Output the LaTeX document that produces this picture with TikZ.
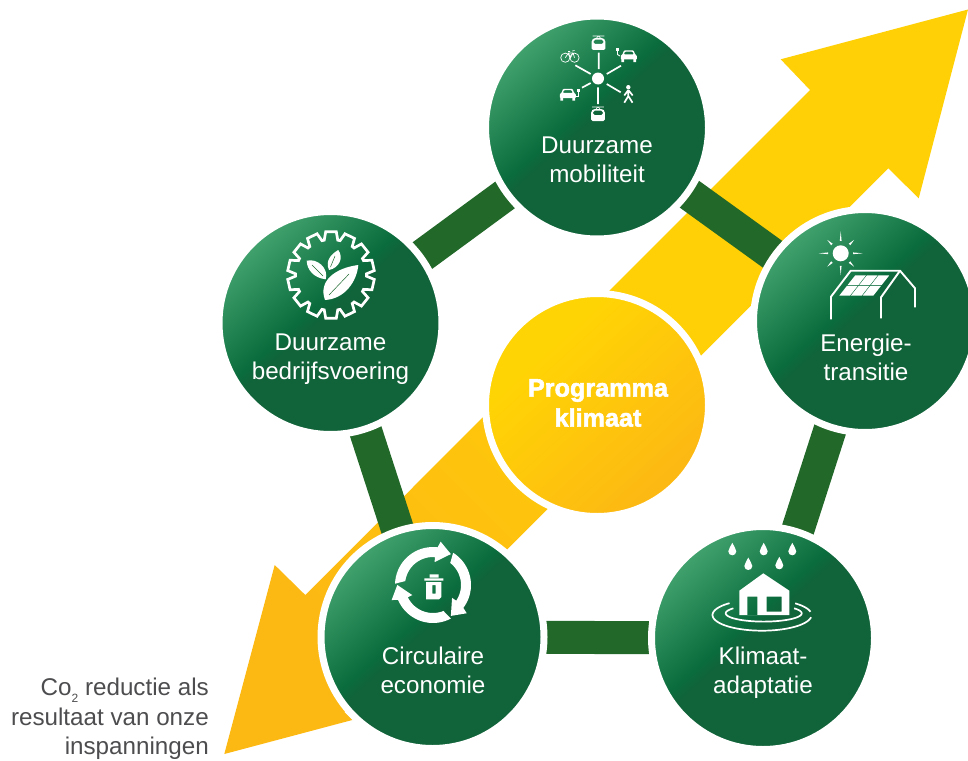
\documentclass[tikz,border=0pt]{standalone}
\usepackage{fontspec}
\setmainfont{Liberation Sans}
\newfontfamily\heavyfont[FakeBold=2.2]{Liberation Sans Bold}
\definecolor{gA}{HTML}{42A36F}
\definecolor{gB}{HTML}{0A6C3C}
\definecolor{gC}{HTML}{11633A}
\definecolor{barG}{HTML}{226828}
\definecolor{yA}{HTML}{FFD404}
\definecolor{yB}{HTML}{FDB913}
\definecolor{txtG}{HTML}{4D4D4F}
\pgfdeclarehorizontalshading{greenball}{100bp}{color(0bp)=(gA); color(25bp)=(gA); color(45bp)=(gB); color(48bp)=(gC); color(100bp)=(gC)}
\pgfdeclarehorizontalshading{yellowball}{100bp}{color(0bp)=(yA); color(33bp)=(yA); color(72bp)=(yB); color(100bp)=(yB)}
\pgfdeclarehorizontalshading{arrowshade}{100bp}{color(0bp)=(yB); color(26bp)=(yB); color(56bp)=(yA!85!yB); color(100bp)=(yA!85!yB)}
\pgfdeclarelayer{bg}
\pgfsetlayers{bg,main}
\tikzset{
  ball/.style={circle,draw=white,line width=7pt,minimum size=223pt,inner sep=0pt,outer sep=0pt,shading=greenball,shading angle=-48},
  sunball/.style={ball,shading=yellowball,shading angle=-48},
  lab/.style={text=white,align=center,font=\fontsize{24.2}{29.3}\selectfont,inner sep=0pt},
  bar/.style={draw=barG,line width=33pt},
}
\newcommand\caricon[2]{\begin{scope}[shift={(#1,#2)}]
  \fill[white,even odd rule,rounded corners=0.8pt] (-8,3.5) -- (-8,-0.5) -- (-6.3,-1.6) -- (-4.8,-5.6) -- (4.8,-5.6) -- (6.3,-1.6) -- (8,-0.5) -- (8,3.5) -- cycle
     (-3.9,-4.3) -- (3.9,-4.3) -- (5,-1.6) -- (-5,-1.6) -- cycle;
  \fill[white] (-7.4,3) rectangle (-4.6,6) (4.6,3) rectangle (7.4,6);
\end{scope}}
\newcommand\tramicon[2]{\begin{scope}[shift={(#1,#2)}]
  \fill[white,even odd rule,rounded corners=1.5pt] (-6.8,6) -- (-6.8,-4) -- (-4.5,-6) -- (4.5,-6) -- (6.8,-4) -- (6.8,6) -- cycle
     (-4.8,-4.3) -- (4.8,-4.3) -- (5,0) -- (-5,0) -- cycle;
  \draw[white,line width=0.6pt] (-5.8,-8) -- (5.8,-8) (0,-8) -- (-2,-6) (0,-8) -- (2,-6);
\end{scope}}
\newcommand\dropicon[2]{\fill[white,shift={(#1,#2)}] (0,-6.5) .. controls (1,-3) and (4,-1) .. (4,2) .. controls (4,7.3) and (-4,7.3) .. (-4,2) .. controls (-4,-1) and (-1,-3) .. cycle;}
\begin{document}
\begin{tikzpicture}[x=1pt,y=-1pt]
\useasboundingbox (0,0) rectangle (968,760);
\clip (0,0) rectangle (968,760);
% circles
\node[ball] (top) at (597,127.5) {};
\node[ball] (left) at (330.5,323) {};
\node[ball] (right) at (865,321) {};
\node[ball] (bl) at (432.5,637) {};
\node[ball] (br) at (763,638) {};
\node[sunball] (mid) at (597,405) {};
\begin{pgfonlayer}{bg}
  \shade[shading=arrowshade,shading angle=45]
    (968,9.5) -- (918.7,198.3) -- (888.3,168.3) -- (344.5,712) -- (352.3,720) -- (224.3,754)
    -- (274.7,565) -- (305.3,595) -- (810,90) -- (780.7,59.3) -- cycle;
  \draw[bar] (left.center) -- (top.center);
  \draw[bar] (top.center) -- (right.center);
  \draw[bar] (right.center) -- (br.center);
  \draw[bar] (br.center) -- (bl.center);
  \draw[bar] (bl.center) -- (left.center);
\end{pgfonlayer}
% labels
\node[lab] (ltop) at (597,160) {Duurzame\\mobiliteit};
\node[lab] (lleft) at (330.5,359) {Duurzame\\bedrijfsvoering};
\node[lab] (lright) at (866,357) {Energie-\\transitie};
\node[lab] (lbl) at (433,670.5) {Circulaire\\economie};
\node[lab] (lbr) at (763,672.5) {Klimaat-\\adaptatie};
\node[text=white,align=center,inner sep=0pt,font=\heavyfont\fontsize{25.2}{30}\selectfont] (lmid) at (598,403) {Programma\\klimaat};
\node[text=txtG,align=right,anchor=east,inner sep=0pt,font=\fontsize{24.2}{29.3}\selectfont] (note) at (209,719)
  {Co\raisebox{-0.28em}{\fontsize{12}{12}\selectfont 2} reductie als\\resultaat van onze\\inspanningen};
% mobility icon
\fill[white] (598,78.5) circle (6);
\draw[white,line width=1.7pt]
  (598.7,52.7) -- (598.7,69)
  (606.7,74) -- (621,65.7)
  (606.7,84) -- (620.7,92.3)
  (598,87.3) -- (598,104)
  (575.3,65.3) -- (590.7,74)
  (582,87.7) -- (590.7,83);
\tramicon{598.5}{44}
\tramicon{598}{115}
\caricon{628.8}{56}
\caricon{567.8}{94.5}
\draw[white,line width=0.7pt] (565.3,57.7) circle (4.6) (574.5,57.7) circle (4.6);
\draw[white,line width=0.7pt] (565.3,57.7) -- (568.5,53) -- (573,53) -- (574.5,57.7) (568.5,53) -- (570.5,57.7) -- (573,53) (570,51.5) -- (568,51.5) (572.3,51) -- (574.5,50.5);
\draw[white,line width=0.9pt] (620,56) -- (617.5,54.5) -- (617.5,51);
\fill[white] (616,48) rectangle (619,51);
\draw[white,line width=0.9pt] (576,96) -- (578.5,96) -- (578.5,92);
\fill[white] (577,89) rectangle (580,92);
\fill[white] (628.3,87.2) circle (2.2);
\draw[white,line width=1.7pt] (628.3,90) -- (628.3,96) -- (624.3,102.7) (628.3,96) -- (632.5,102.7) (628.3,90) -- (624.3,95.5) (628.3,90) -- (632.7,95.5);
% gear icon
\begin{scope}[shift={(331,275)}]
  \draw[white,line width=2.7pt,line join=miter] (-90-11:35.5)
   \foreach \k [evaluate=\k as \a using {\k*360/14-90}] in {0,...,13}{ -- (\a-11:35.5) -- (\a-7:43.5) -- (\a+7:43.5) -- (\a+11:35.5)} -- cycle;
\end{scope}
\fill[white] (325,300) .. controls (318,281) and (335,268) .. (358.3,265) .. controls (357,281) and (345,299) .. (325,300) -- cycle;
\fill[white] (306.7,260.7) .. controls (317,258) and (329,268) .. (325.7,279.3) .. controls (314,278) and (307,270) .. (306.7,260.7) -- cycle;
\fill[white] (338.3,250) .. controls (344,258) and (339,268) .. (329,270) .. controls (325,261) and (331,254) .. (338.3,250) -- cycle;
\draw[barG!70!gB,line width=0.5pt] (329,295) -- (349,274) (312,265) -- (323,276) (335,256) -- (330.5,267);
% energy icon
\fill[white] (840.7,253.3) circle (8);
\begin{scope}[shift={(840.7,253.3)}]
  \foreach \a in {0,90,180,270}{\fill[white] (\a-4:12.5) -- (\a:22) -- (\a+4:12.5) -- cycle;}
  \foreach \a in {45,135,225,315}{\fill[white] (\a-5:12.5) -- (\a:19) -- (\a+5:12.5) -- cycle;}
\end{scope}
\draw[white,line width=1.9pt,line join=round] (831,319.3) -- (831,296.7) -- (850.7,270.7) -- (900,270.7) -- (915,288.3) -- (915,307.3);
\draw[white,line width=1.9pt,line join=round] (881,318.3) -- (881,297.3) -- (900,270.7);
\foreach \i in {0,1,2}{\foreach \j in {0,1}{
  \fill[white] ({855+35*(\i+.04)/3-16.5*(\j+.04)/2},{275+21*(\j+.04)/2})
   -- ({855+35*(\i+.96)/3-16.5*(\j+.04)/2},{275+21*(\j+.04)/2})
   -- ({855+35*(\i+.96)/3-16.5*(\j+.96)/2},{275+21*(\j+.96)/2})
   -- ({855+35*(\i+.04)/3-16.5*(\j+.96)/2},{275+21*(\j+.96)/2}) -- cycle;}}
% recycle icon
\foreach \r in {0,-120,-240}{
\begin{scope}[shift={(433,585)},rotate=\r]
  \fill[white] plot[domain=-178:-83,samples=20] (\x:38) -- (-80:44) -- (-60:35.7) -- (-86:23) -- plot[domain=-86:-172,samples=20] (\x:28) -- cycle;
\end{scope}}
\fill[white,even odd rule] (426,582) -- (441.3,582) -- (441.3,597) -- (439,599.3) -- (426,599.3) -- cycle (432.3,585) rectangle (435.7,593.5);
\fill[white] (424.3,578.3) rectangle (443.3,580.7) (429.5,574.3) rectangle (438.5,577.6);
% flood icon
\dropicon{732.3}{549.3}
\dropicon{763.7}{549.3}
\dropicon{792.3}{549.3}
\dropicon{748.3}{564}
\dropicon{779.3}{563.3}
\draw[white,line width=1.7pt] plot[domain=8:229,samples=50] ({762+49.5*cos(\x)},{615+15.7*sin(\x)});
\draw[white,line width=1.7pt] plot[domain=-48:-12,samples=12] ({762+49.5*cos(\x)},{615+15.7*sin(\x)});
\draw[white,line width=1.7pt] plot[domain=-37:217,samples=50] ({763.7+38*cos(\x)},{613.3+8.3*sin(\x)});
\fill[white,even odd rule] (739.3,590.7) -- (763.3,573.3) -- (789.3,590.7) -- (789.3,615) -- (739.3,615) -- cycle
   (766.7,596.7) rectangle (781.7,611.7) (747.3,596.7) rectangle (757.3,615);
\end{tikzpicture}
\end{document}
